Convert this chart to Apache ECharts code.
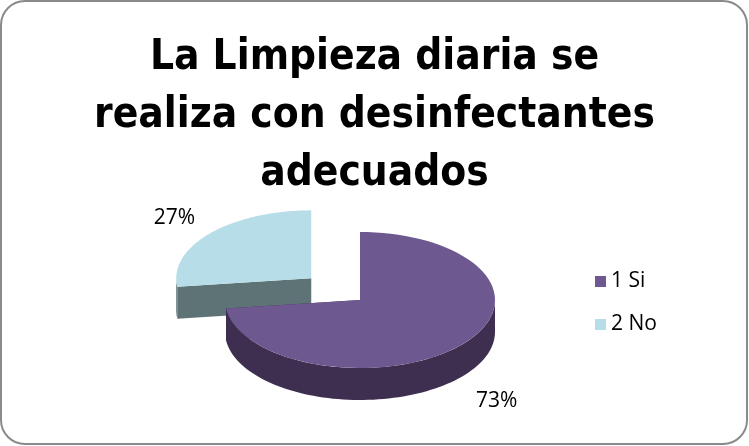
<!DOCTYPE html>
<html>
<head>
<meta charset="utf-8">
<script src="https://cdn.jsdelivr.net/npm/echarts@6/dist/echarts.min.js"></script>
<style>
html, body { margin: 0; padding: 0; background: #fff; }
#chart { width: 749px; height: 446px; }
</style>
</head>
<body>
<div id="chart"></div>
<script>
var categories = ['1 Si', '2 No'];
var values = [73, 27];
var labels = ['73%', '27%'];
var topColors = ['#6E5890', '#B7DEE8'];
var sideColors = ['#3E2F50', '#5E7375'];
var explode = [0, 65];

// geometry of the tilted pie
var cx = 360, cy = 300, rx = 135, ry = 68, depth = 32, labelK = 1.35;
var total = values.reduce(function (a, b) { return a + b; }, 0);

function pt(x0, y0, a, s) {
    return [x0 + rx * s * Math.sin(a), y0 - ry * s * Math.cos(a)];
}

function renderSlice(params, api) {
    var i = api.value(0);
    var start = 0;
    for (var j = 0; j < i; j++) start += values[j];
    var a0 = start / total * Math.PI * 2;
    var a1 = (start + api.value(1)) / total * Math.PI * 2;
    var am = (a0 + a1) / 2;
    var ox = cx + explode[i] * Math.sin(am);
    var oy = cy - explode[i] * (ry / rx) * Math.cos(am);
    var children = [];
    var n = 80, k;

    // cut faces
    [a0, a1].forEach(function (a) {
        var p = pt(ox, oy, a, 1);
        children.push({
            type: 'polygon',
            shape: { points: [[ox, oy], p, [p[0], p[1] + depth], [ox, oy + depth]] },
            style: { fill: sideColors[i] }
        });
    });

    // outer wall, front half only
    var w0 = Math.max(a0, Math.PI / 2), w1 = Math.min(a1, Math.PI * 1.5);
    if (w1 > w0) {
        var up = [], down = [];
        for (k = 0; k <= n; k++) {
            var p = pt(ox, oy, w0 + (w1 - w0) * k / n, 1);
            up.push(p);
            down.unshift([p[0], p[1] + depth]);
        }
        children.push({
            type: 'polygon',
            shape: { points: up.concat(down) },
            style: { fill: sideColors[i] }
        });
    }

    // top face
    var tp = [[ox, oy]];
    for (k = 0; k <= n; k++) tp.push(pt(ox, oy, a0 + (a1 - a0) * k / n, 1));
    children.push({
        type: 'polygon',
        shape: { points: tp },
        style: { fill: topColors[i] }
    });

    // percentage label
    var lp = pt(ox, oy, am, labelK);
    if (Math.cos(am) < 0) lp[1] += depth + 8;
    children.push({
        type: 'text',
        style: {
            text: labels[i],
            x: lp[0], y: lp[1],
            fill: '#000',
            fontSize: 21,
            fontFamily: 'Open Sans',
            textAlign: 'center',
            textVerticalAlign: 'middle'
        }
    });

    return { type: 'group', children: children };
}

var myChart = echarts.init(document.getElementById('chart'));
var option = {
    animation: false,
    backgroundColor: '#fff',
    title: {
        text: 'La Limpieza diaria se\nrealiza con desinfectantes\nadecuados',
        left: 'center',
        top: 24,
        textStyle: {
            fontSize: 42,
            fontWeight: 'bold',
            lineHeight: 58,
            color: '#000',
            fontFamily: 'DejaVu Sans Condensed'
        }
    },
    legend: {
        data: categories,
        orient: 'vertical',
        left: 590,
        top: 266,
        itemWidth: 11,
        itemHeight: 11,
        itemGap: 22,
        icon: 'rect',
        textStyle: { fontSize: 21, color: '#000', fontFamily: 'Open Sans' }
    },
    graphic: [{
        type: 'rect',
        shape: { x: 1, y: 1, width: 746, height: 443, r: 24 },
        style: { fill: 'none', stroke: '#8a8a8a', lineWidth: 2 },
        z: 100
    }],
    series: categories.map(function (name, i) {
        return {
            type: 'custom',
            name: name,
            coordinateSystem: 'none',
            z: 10 - i,
            itemStyle: { color: topColors[i] },
            renderItem: renderSlice,
            data: [[i, values[i]]]
        };
    })
};
myChart.setOption(option);
</script>
</body>
</html>
